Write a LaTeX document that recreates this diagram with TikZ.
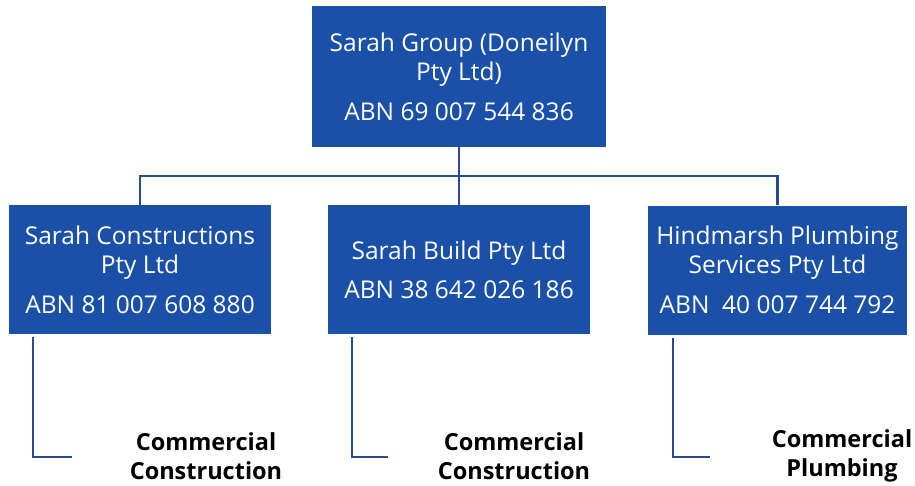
\documentclass[tikz,border=0pt]{standalone}
\usepackage{fontspec}
\setmainfont{Open Sans}
\definecolor{boxblue}{RGB}{26,80,168}
\definecolor{lineblue}{RGB}{40,75,150}
\begin{document}
\begin{tikzpicture}[x=1pt,y=-1pt,
  orgbox/.style={draw=none,fill=boxblue,text=white,align=center,inner sep=0pt,
    font=\fontsize{24.5}{29}\selectfont},
  conn/.style={draw=lineblue,line width=2.2pt},
  lbl/.style={align=center,inner sep=0pt,font=\fontsize{23.5}{29}\selectfont\bfseries}]
\useasboundingbox (0,0) rectangle (915,485);
\node[orgbox,minimum width=294pt,minimum height=141pt] (top) at (459,76.5)
  {Sarah Group (Doneilyn\\Pty Ltd)\\[11pt] ABN 69 007 544 836};
\node[orgbox,minimum width=262pt,minimum height=129pt] (c1) at (140,269.5)
  {Sarah Constructions\\Pty Ltd\\[11pt]ABN 81 007 608 880};
\node[orgbox,minimum width=262pt,minimum height=129pt] (c2) at (459,269.5)
  {Sarah Build Pty Ltd\\[10pt]ABN 38 642 026 186};
\node[orgbox,minimum width=259pt,minimum height=129pt] (c3) at (777.5,270)
  {Hindmarsh Plumbing\\Services Pty Ltd\\[11pt]ABN\ \ 40 007 744 792};
\coordinate (bus) at (459,176);
\draw[conn] (top.south) -- (bus);
\draw[conn] (c1.north) -- (c1.north |- bus) -- (c3.north |- bus) -- (c3.north);
\draw[conn] (bus) -- (c2.north);
\node[lbl] (l1) at (206,456) {Commercial\\Construction};
\node[lbl] (l2) at (514,456) {Commercial\\Construction};
\node[lbl] (l3) at (842,456) {Commercial\\Plumbing};
\coordinate (e1) at (72,457);
\coordinate (e2) at (388,457);
\coordinate (e3) at (710,457);
\draw[conn] ([xshift=24pt,yshift=-3pt]c1.south west) |- (e1);
\draw[conn] ([xshift=24pt,yshift=-3pt]c2.south west) |- (e2);
\draw[conn] ([xshift=25pt,yshift=-3pt]c3.south west) |- (e3);
\end{tikzpicture}
\end{document}
